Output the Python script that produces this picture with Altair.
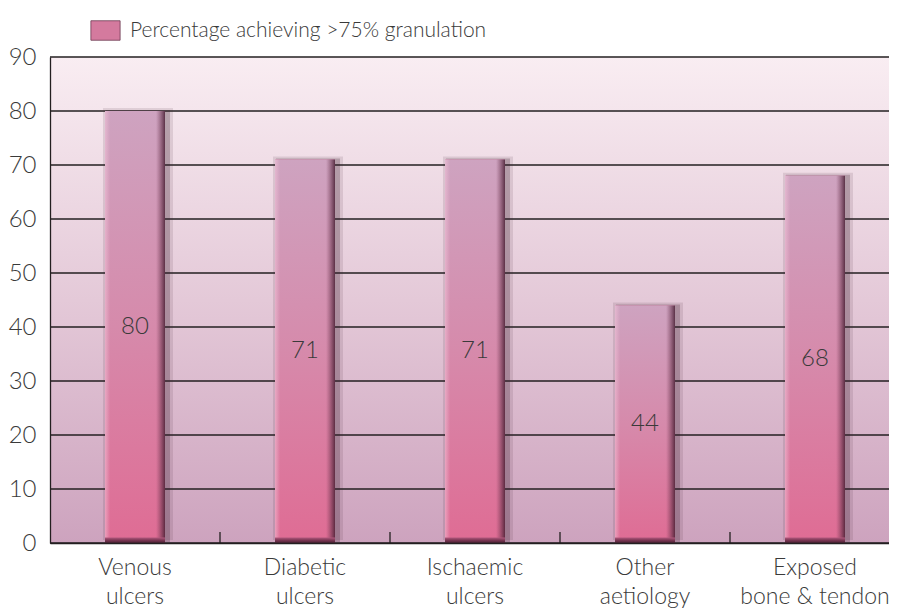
import altair as alt
import pandas as pd

categories = ["Venous|ulcers", "Diabetic|ulcers", "Ischaemic|ulcers", "Other|aetiology", "Exposed|bone & tendon"]
values = [80, 71, 71, 44, 68]
y_ticks = [0, 10, 20, 30, 40, 50, 60, 70, 80, 90]
series_name = "Percentage achieving >75% granulation"

W, H = 839, 486          # visible plot area inside the svg
BAND = 170               # band width as in the reference (last band runs past the page edge)
FONT = "Lato"
WEIGHT = 300
TXT = "#3a3a3a"
LINE = "#231f20"

df = pd.DataFrame({"cat": categories, "value": values})
df["half"] = df["value"] / 2
df["series"] = series_name
df["bev"] = 1.0
df["idx"] = range(len(df))

grid_df = pd.DataFrame({"t": y_ticks})

def grad(stops, horizontal=False):
    return alt.Gradient(
        gradient="linear",
        x1=0, y1=0,
        x2=1 if horizontal else 0,
        y2=0 if horizontal else 1,
        stops=[alt.GradientStop(offset=o, color=c) for o, c in stops],
    )

x_enc = alt.X(
    "cat:N", sort=categories, title=None,
    scale=alt.Scale(paddingInner=0, paddingOuter=0, range=[0, BAND * len(categories)]),
    axis=alt.Axis(
        labelExpr="split(datum.label, '|')", labelFont=FONT, labelFontSize=23,
        labelFontWeight=WEIGHT,
        labelColor=TXT, labelLineHeight=29, labelPadding=13, labelAngle=0,
        ticks=False, domain=True, domainColor=LINE, domainWidth=1.3, grid=False,
        labelLimit=0, zindex=1,
    ),
)

y_axis = alt.Axis(
    values=y_ticks, labelFont=FONT, labelFontSize=24, labelColor=TXT, labelFontWeight=WEIGHT,
    labelPadding=14, ticks=False, domain=True, domainColor=LINE, domainWidth=1.3,
    grid=False, zindex=1,
)
y_scale = alt.Scale(domain=[0, 90], nice=False)

def Y(field):
    return alt.Y(field, type="quantitative", title=None, scale=y_scale, axis=y_axis)

background = alt.Chart(pd.DataFrame({"k": [0]})).mark_rect(
    fill=grad([(0, "#f9edf2"), (0.5, "#e4c9d8"), (1, "#cda3be")])
).encode(x=alt.value(0), x2=alt.value(W), y=alt.value(0), y2=alt.value(H))

gridlines = alt.Chart(grid_df).mark_rule(color=LINE, strokeWidth=1.3).encode(
    y=Y("t"), x=alt.value(0), x2=alt.value(W)
)

base = alt.Chart(df)

shadow1 = base.mark_bar(size=70, xOffset=3, yOffset=-3, color="#3e2030", opacity=0.12).encode(x=x_enc, y=Y("value"))
shadow2 = base.mark_bar(size=64, xOffset=3, yOffset=-1, color="#3e2030", opacity=0.25).encode(x=x_enc, y=Y("value"))

legend_bar = base.mark_bar(size=60).encode(
    x=x_enc, y=Y("value"),
    color=alt.Color(
        "series:N", scale=alt.Scale(range=["#d47a9e"]),
        legend=alt.Legend(
            title=None, orient="none", legendX=45, legendY=-37,
            symbolType="M-1.5,-1H1.5V1H-1.5Z", symbolSize=380,
            symbolStrokeColor="#6b3a50", symbolStrokeWidth=0.8,
            labelFont=FONT, labelFontSize=21, labelFontWeight=WEIGHT, labelColor=TXT,
            labelOffset=14, labelLimit=0,
        ),
    ),
)

main_bar = base.mark_bar(
    size=60,
    fill=grad([(0, "#cea3c0"), (0.5, "#d68aab"), (1, "#df6c94")]),
).encode(x=x_enc, y=Y("value"))

right_edge = base.mark_bar(
    size=9, xOffset=25.5,
    fill=grad([(0, "rgba(110,55,80,0)"), (1, "rgba(70,30,50,0.85)")], horizontal=True),
).encode(x=x_enc, y=Y("value"))

left_edge = base.mark_bar(
    size=5, xOffset=-27.5,
    fill=grad([(0, "rgba(245,200,220,0.55)"), (1, "rgba(245,200,220,0)")], horizontal=True),
).encode(x=x_enc, y=Y("value"))

bevel = base.mark_bar(
    size=60,
    fill=grad([(0, "#b0587c"), (0.5, "#7a3553"), (1, "#4a2233")]),
).encode(x=x_enc, y=Y("bev"))

labels = base.mark_text(font=FONT, fontSize=24, fontWeight=WEIGHT, color=TXT, baseline="middle").encode(
    x=x_enc, y=Y("half"), text="value:Q"
)

ticks = base.transform_filter(alt.datum.idx < len(categories) - 1).mark_rule(
    color=LINE, strokeWidth=1.3, xOffset=BAND / 2
).encode(
    x=x_enc, y=alt.value(H - 11), y2=alt.value(H)
)

chart = alt.layer(
    background, gridlines, shadow1, shadow2, legend_bar, main_bar, right_edge, left_edge,
    bevel, labels, ticks
).properties(
    width=W, height=H,
    autosize=alt.AutoSizeParams(type="none"),
    padding={"left": 42, "top": 49, "right": 0, "bottom": 65},
).configure_view(stroke=None).configure(background="white")

chart.save("out.html", embed_options={"renderer": "svg", "actions": False})
